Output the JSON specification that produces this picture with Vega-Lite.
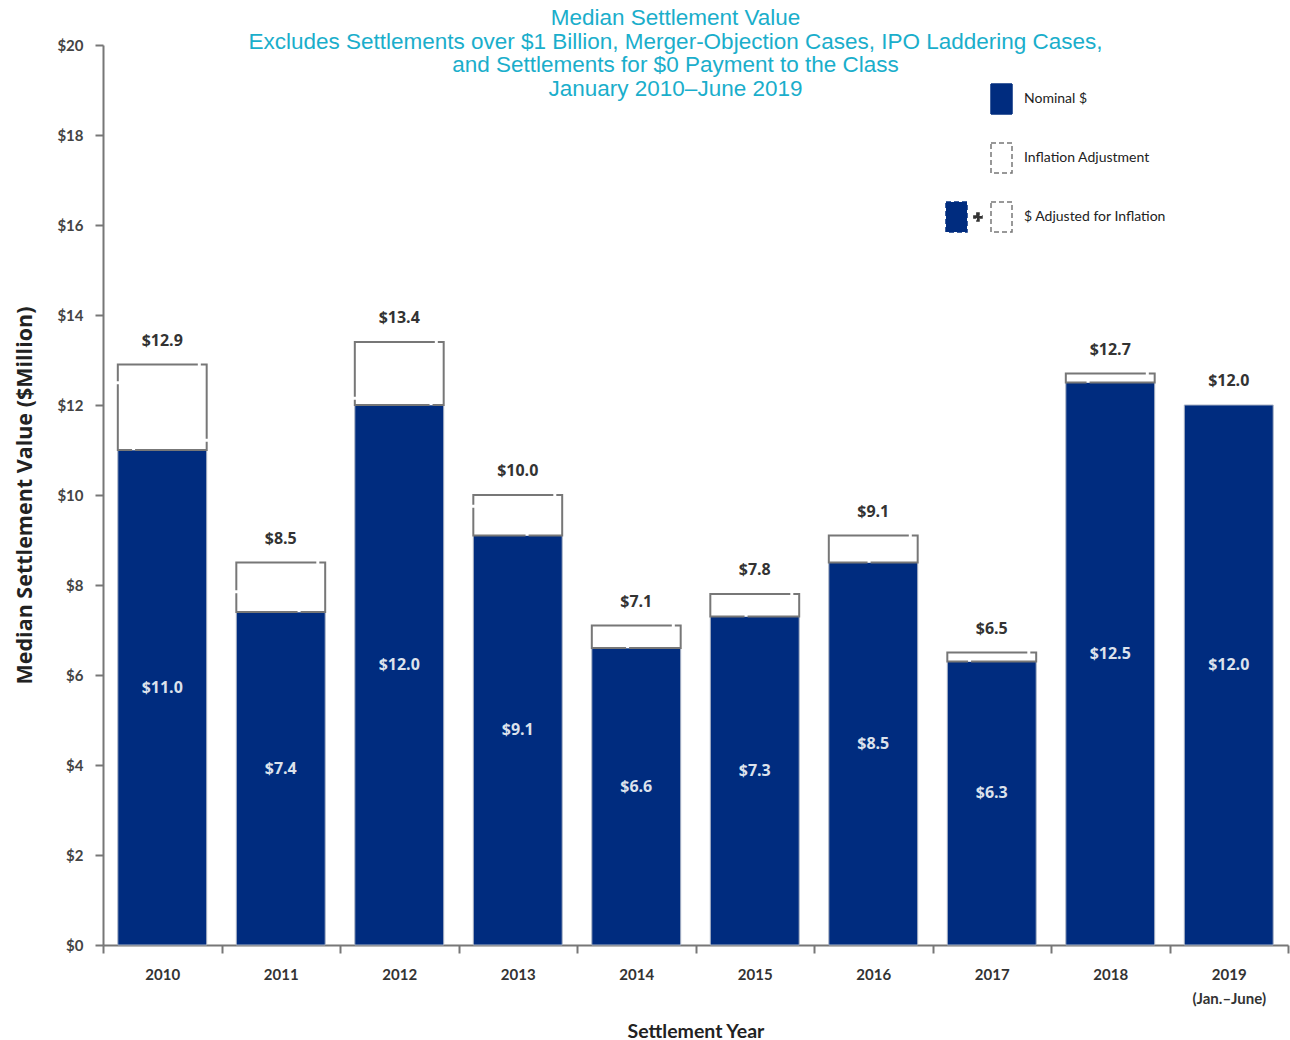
{
  "$schema": "https://vega.github.io/schema/vega-lite/v6.json",
  "width": 1185,
  "height": 900,
  "autosize": {"type": "none"},
  "padding": {"left": 103, "top": 45, "right": 2, "bottom": 95},
  "background": "white",
  "title": {
    "text": ["Median Settlement Value", "Excludes Settlements over $1 Billion, Merger-Objection Cases, IPO Laddering Cases,", "and Settlements for $0 Payment to the Class", "January 2010–June 2019"],
    "font": "Liberation Sans",
    "fontSize": 22.5,
    "fontWeight": "normal",
    "color": "#1AAECB",
    "lineHeight": 23.5,
    "anchor": "middle",
    "baseline": "top",
    "offset": -62,
    "dx": -20
  },
  "config": {
    "view": {"stroke": null},
    "axis": {"grid": false}
  },
  "data": {
    "values": [
      {"year": "2010", "nominal": 11.0, "adjusted": 12.9},
      {"year": "2011", "nominal": 7.4, "adjusted": 8.5},
      {"year": "2012", "nominal": 12.0, "adjusted": 13.4},
      {"year": "2013", "nominal": 9.1, "adjusted": 10.0},
      {"year": "2014", "nominal": 6.6, "adjusted": 7.1},
      {"year": "2015", "nominal": 7.3, "adjusted": 7.8},
      {"year": "2016", "nominal": 8.5, "adjusted": 9.1},
      {"year": "2017", "nominal": 6.3, "adjusted": 6.5},
      {"year": "2018", "nominal": 12.5, "adjusted": 12.7},
      {"year": "2019", "nominal": 12.0, "adjusted": 12.0}
    ]
  },
  "encoding": {
    "x": {
      "field": "year",
      "type": "nominal",
      "scale": {"paddingInner": 0, "paddingOuter": 0},
      "axis": {
        "title": "Settlement Year",
        "titleFont": "Lato",
        "titleFontSize": 19.5,
        "titleFontWeight": "bold",
        "titleColor": "#222",
        "titlePadding": 16,
        "labelAngle": 0,
        "labelFont": "Lato",
        "labelFontWeight": "bold",
        "labelFontSize": 15,
        "labelColor": "#333",
        "labelPadding": 14,
        "labelLineHeight": 24,
        "labelExpr": "datum.value == '2019' ? ['2019', '(Jan.–June)'] : datum.value",
        "tickBand": "extent",
        "tickSize": 8,
        "tickWidth": 2,
        "tickColor": "#777",
        "domainColor": "#777",
        "domainWidth": 2
      }
    }
  },
  "layer": [
    {
      "mark": {"type": "bar", "fill": "#002C7F", "stroke": "#A9B2C4", "strokeWidth": 1, "width": {"band": 0.75}},
      "encoding": {
        "y": {
          "field": "nominal",
          "type": "quantitative",
          "scale": {"domain": [0, 20], "nice": false},
          "axis": {
            "title": "Median Settlement Value ($Million)",
            "titleFont": "Open Sans",
            "titleFontSize": 21.5,
            "titleFontWeight": "bold",
            "titleColor": "#222",
            "titlePadding": 20,
            "values": [0, 2, 4, 6, 8, 10, 12, 14, 16, 18, 20],
            "labelExpr": "'$' + datum.value",
            "labelFont": "Lato",
            "labelFontWeight": "bold",
            "labelFontSize": 15,
            "labelColor": "#444",
            "labelPadding": 12,
            "tickSize": 8,
            "tickWidth": 2,
            "tickColor": "#777",
            "domainColor": "#777",
            "domainWidth": 2
          }
        }
      }
    },
    {
      "transform": [{"filter": "datum.adjusted > datum.nominal"}],
      "mark": {"type": "bar", "fill": "white", "stroke": "#777", "strokeWidth": 2, "strokeDash": [80, 3], "width": {"band": 0.75}},
      "encoding": {
        "y": {"field": "nominal", "type": "quantitative"},
        "y2": {"field": "adjusted"}
      }
    },
    {
      "mark": {"type": "text", "font": "Open Sans", "fontWeight": "bold", "fontSize": 16, "color": "#333", "baseline": "alphabetic", "dy": -19},
      "encoding": {
        "y": {"field": "adjusted", "type": "quantitative"},
        "text": {"field": "adjusted", "type": "quantitative", "format": "$.1f"}
      }
    },
    {
      "mark": {"type": "text", "font": "Open Sans", "fontWeight": "bold", "fontSize": 16, "color": "#DCE2EC", "baseline": "middle", "dy": -10, "y": {"expr": "scale('y', datum.nominal / 2)"}},
      "encoding": {
        "text": {"field": "nominal", "type": "quantitative", "format": "$.1f"}
      }
    },
    {
      "transform": [{"filter": "false"}],
      "mark": {"type": "point", "filled": true, "size": 900, "strokeWidth": 1.5, "opacity": 1},
      "encoding": {
        "x": {"field": "year", "type": "nominal"},
        "fill": {
          "field": "part",
          "type": "nominal",
          "scale": {
            "domain": ["Nominal $", "Inflation Adjustment", "$ Adjusted for Inflation"],
            "range": ["#002C7F", "white", {"expr": "{gradient: 'linear', x1: 0, y1: 0, x2: 1, y2: 0, stops: [{offset: 0, color: '#002C7F'}, {offset: 0.37, color: '#002C7F'}, {offset: 0.37, color: '#333333'}, {offset: 0.6, color: '#333333'}, {offset: 0.6, color: 'white'}, {offset: 1, color: 'white'}]}"}]
          },
          "legend": {
            "title": null,
            "orient": "none",
            "legendX": 882.5,
            "legendY": 38,
            "padding": 0,
            "rowPadding": 23,
            "labelOffset": 6.5,
            "labelFont": "Lato",
            "labelFontSize": 14,
            "labelColor": "#222",
            "symbolSize": 900,
            "symbolStrokeWidth": 1.5,
            "symbolOpacity": 1
          }
        },
        "stroke": {
          "field": "part",
          "type": "nominal",
          "scale": {
            "domain": ["Nominal $", "Inflation Adjustment", "$ Adjusted for Inflation"],
            "range": ["#002C7F", "#777777", {"expr": "{gradient: 'linear', x1: 0, y1: 0, x2: 1, y2: 0, stops: [{offset: 0, color: '#002C7F'}, {offset: 0.37, color: '#002C7F'}, {offset: 0.37, color: '#333333'}, {offset: 0.6, color: '#333333'}, {offset: 0.6, color: '#777777'}, {offset: 1, color: '#777777'}]}"}]
          }
        },
        "strokeDash": {
          "field": "part",
          "type": "nominal",
          "scale": {
            "domain": ["Nominal $", "Inflation Adjustment", "$ Adjusted for Inflation"],
            "range": [[1, 0], [5, 3], [5, 3]]
          }
        },
        "shape": {
          "field": "part",
          "type": "nominal",
          "scale": {
            "domain": ["Nominal $", "Inflation Adjustment", "$ Adjusted for Inflation"],
            "range": [
              "M-0.7,-1H0.7V1H-0.7Z",
              "M-0.7,-1H0.7V1H-0.7Z",
              "M-3.7,-1H-2.3V1H-3.7Z M-1.84,-0.07H-1.3V0.07H-1.84Z M-1.64,-0.27H-1.5V0.27H-1.64Z M-0.7,-1H0.7V1H-0.7Z"
            ]
          }
        }
      }
    }
  ]
}
